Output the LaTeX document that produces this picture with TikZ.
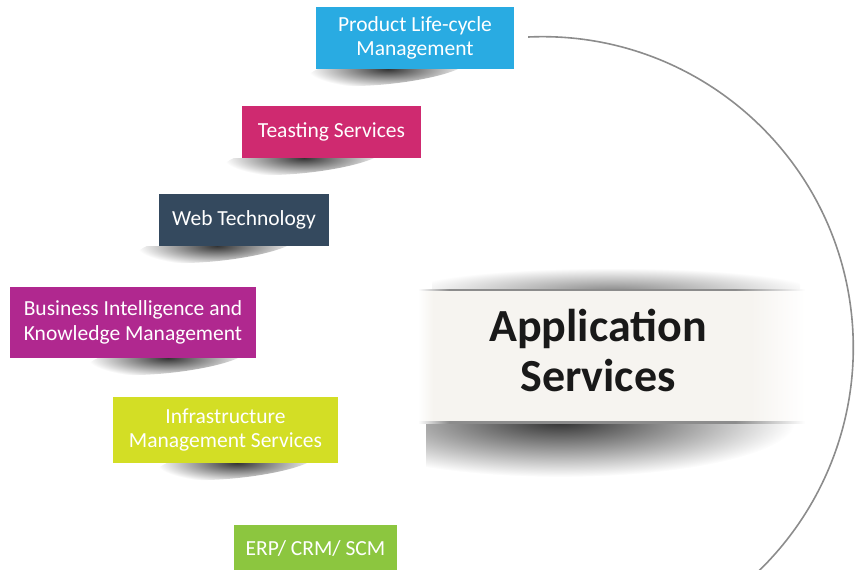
\documentclass[tikz,border=0pt]{standalone}
\usepackage{fontspec}
\setmainfont{Carlito}
\usetikzlibrary{calc}
\definecolor{plmblue}{HTML}{29ABE2}
\definecolor{testpink}{HTML}{CF2A70}
\definecolor{webslate}{HTML}{34495E}
\definecolor{bipurple}{HTML}{B0288F}
\definecolor{imsyellow}{HTML}{D3DE25}
\definecolor{erpgreen}{HTML}{8CC63F}
\definecolor{bandwhite}{HTML}{F6F4F0}
\definecolor{arcgray}{HTML}{8C8C8C}
\pgfdeclarehorizontalshading{bandfade}{100bp}{color(0bp)=(white); color(25bp)=(white); color(27bp)=(bandwhite); color(68bp)=(bandwhite); color(75bp)=(white); color(100bp)=(white)}
\pgfdeclarehorizontalshading{edgefade}{100bp}{color(0bp)=(white); color(25bp)=(white); color(29bp)=(black!45); color(66bp)=(black!45); color(75bp)=(white); color(100bp)=(white)}
\tikzstyle{servicebox}=[rectangle,text=white,align=center,inner sep=0pt,font=\fontsize{21.5}{24.5}\selectfont]
\tikzstyle{dropshadow}=[inner color=black!80,outer color=white]
\tikzstyle{title}=[align=center,text=black!90,font=\fontsize{46}{50}\selectfont\bfseries]

\begin{document}
\begin{tikzpicture}[x=1pt, y=1pt]

   \useasboundingbox (0,0) rectangle (862,-570);
   \clip (0,0) rectangle (862,-570);

% Title band
   \begin{scope}
     \clip (432,-262) rectangle (800,-290);
     \shade[dropshadow, inner color=black!45] (612,-290) ellipse [x radius=200, y radius=22];
   \end{scope}
   \begin{scope}
     \clip (426,-422) rectangle (805,-490);
     \shade[dropshadow, inner color=black!80] (560,-422) ellipse [x radius=235, y radius=55];
   \end{scope}
   \shade[shading=bandfade] (418,-290) rectangle (805,-422);
   \shade[shading=edgefade] (418,-289) rectangle (805,-290.5);
   \shade[shading=edgefade] (418,-421.5) rectangle (805,-423);
   \node[title] (app) at (598,-350) {Application\\Services};

% Service boxes with their shadows
    \foreach \cx/\cy/\bw/\bh/\sx/\name/\col/\txt in {
      415/-38/198/62/72/plm/plmblue/{Product Life-cycle\\Management},
      331.5/-132/179/52/62/test/testpink/{Teasting Services},
      244/-220/170/52/58/web/webslate/{Web Technology},
      133/-322.5/246/71/158/bi/bipurple/{Business Intelligence and\\Knowledge Management},
      225.5/-430/225/66/124/ims/imsyellow/{Infrastructure\\Management Services},
      315.5/-548.5/163/47/80/erp/erpgreen/{ERP/ CRM/ SCM}}
    {
      \begin{scope}
        \clip ({\cx-\bw/2-20},{\cy-\bh/2}) rectangle ({\cx+\bw/2},{\cy-\bh/2-30});
        \shade[dropshadow, rotate around={6:({\cx-\bw/2+\sx},{\cy-\bh/2})}] ({\cx-\bw/2+\sx},{\cy-\bh/2}) ellipse [x radius=80, y radius=15];
      \end{scope}
      \node[servicebox, fill=\col, minimum width=\bw pt, minimum height=\bh pt] (\name) at (\cx,\cy) {\txt};
    }

% Arc
   \coordinate (arcstart) at ($(plm.east)+(14,1)$);
   \draw[arcgray, line width=1.6pt] (arcstart) arc [start angle=92.6, end angle=-60, radius=311];

\end{tikzpicture}
\end{document}
